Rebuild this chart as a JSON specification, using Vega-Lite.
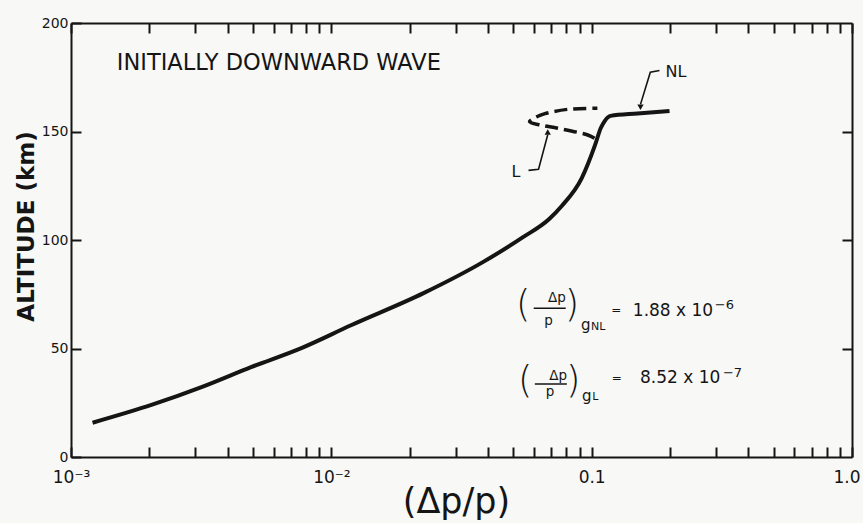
{
  "$schema": "https://vega.github.io/schema/vega-lite/v6.json",
  "width": 781,
  "height": 434,
  "autosize": {"type": "none"},
  "padding": {"left": 71, "top": 23, "right": 11, "bottom": 66},
  "background": "#f8f8f6",
  "config": {
    "view": {"stroke": null},
    "font": "DejaVu Sans",
    "axis": {
      "domainColor": "#151515",
      "tickColor": "#151515",
      "labelColor": "#151515",
      "titleColor": "#151515",
      "domainWidth": 2,
      "tickWidth": 2,
      "grid": false,
      "labelFont": "DejaVu Sans",
      "titleFont": "DejaVu Sans"
    }
  },
  "datasets": {
    "nl": [
      {"dp": 0.00121, "alt": 15.8},
      {"dp": 0.00205, "alt": 24.1},
      {"dp": 0.00319, "alt": 32.3},
      {"dp": 0.00494, "alt": 41.5},
      {"dp": 0.00767, "alt": 50.2},
      {"dp": 0.0119, "alt": 60.7},
      {"dp": 0.0226, "alt": 75.5},
      {"dp": 0.0382, "alt": 89.8},
      {"dp": 0.0543, "alt": 101.2},
      {"dp": 0.0687, "alt": 109.7},
      {"dp": 0.0769, "alt": 115.8},
      {"dp": 0.0915, "alt": 128.4},
      {"dp": 0.103, "alt": 143.7},
      {"dp": 0.1084, "alt": 151.6},
      {"dp": 0.1122, "alt": 154.8},
      {"dp": 0.1182, "alt": 157.2},
      {"dp": 0.1501, "alt": 158.3},
      {"dp": 0.1991, "alt": 159.5}
    ],
    "l": [
      {"ord": 1, "dp": 0.1026, "alt": 146.9},
      {"ord": 2, "dp": 0.0966, "alt": 148.4},
      {"ord": 3, "dp": 0.0741, "alt": 151.5},
      {"ord": 4, "dp": 0.064, "alt": 152.9},
      {"ord": 5, "dp": 0.0577, "alt": 154.5},
      {"ord": 6, "dp": 0.0602, "alt": 156.2},
      {"ord": 7, "dp": 0.0657, "alt": 158.1},
      {"ord": 8, "dp": 0.0807, "alt": 160.2},
      {"ord": 9, "dp": 0.1052, "alt": 160.7}
    ],
    "leaders": [
      {"leader": "NL", "ord": 1, "dp": 0.1822, "alt": 178.1},
      {"leader": "NL", "ord": 2, "dp": 0.168, "alt": 177.3},
      {"leader": "NL", "ord": 3, "dp": 0.154, "alt": 162.5},
      {"leader": "L", "ord": 1, "dp": 0.0572, "alt": 132.1},
      {"leader": "L", "ord": 2, "dp": 0.0625, "alt": 132.6},
      {"leader": "L", "ord": 3, "dp": 0.0678, "alt": 148.5}
    ],
    "arrows": [
      {"dir": "down", "dp": 0.154, "alt": 161.2},
      {"dir": "up", "dp": 0.0678, "alt": 149.8}
    ],
    "tags": [
      {"label": "NL", "dp": 0.192, "alt": 177.5},
      {"label": "L", "dp": 0.0492, "alt": 131.3}
    ],
    "heading": [
      {"label": "INITIALLY DOWNWARD WAVE", "dp": 0.0015, "alt": 181.7}
    ],
    "parens": [
      {"t": "(", "dp": 0.0546, "alt": 69.5},
      {"t": ")", "dp": 0.084, "alt": 69.5},
      {"t": "(", "dp": 0.0555, "alt": 34.4},
      {"t": ")", "dp": 0.085, "alt": 34.7}
    ],
    "fracs": [
      {"t": "Δp", "dp": 0.0736, "alt": 73.5},
      {"t": "p", "dp": 0.0683, "alt": 62.8},
      {"t": "Δp", "dp": 0.0743, "alt": 37.4},
      {"t": "p", "dp": 0.0692, "alt": 29.9}
    ],
    "bars": [
      {"dp": 0.0599, "dp2": 0.0795, "alt": 68.5},
      {"dp": 0.0605, "dp2": 0.0803, "alt": 33.6}
    ],
    "gs": [
      {"t": "g", "dp": 0.091, "alt": 61.0},
      {"t": "g", "dp": 0.0919, "alt": 28.3}
    ],
    "subs": [
      {"t": "NL", "dp": 0.0995, "alt": 59.7},
      {"t": "L", "dp": 0.1005, "alt": 27.5}
    ],
    "eqs": [
      {"t": "=", "dp": 0.1243, "alt": 67.6},
      {"t": "=", "dp": 0.125, "alt": 36.4}
    ],
    "vals": [
      {"t": "1.88 x 10", "dp": 0.1439, "alt": 67.5},
      {"t": "8.52 x 10", "dp": 0.1533, "alt": 36.2}
    ],
    "sups": [
      {"t": "−6", "dp": 0.297, "alt": 70.2},
      {"t": "−7", "dp": 0.3192, "alt": 38.6}
    ]
  },
  "layer": [
    {
      "data": {"name": "nl"},
      "mark": {"type": "line", "color": "#151515", "strokeWidth": 4, "interpolate": "monotone"},
      "encoding": {
        "x": {
          "field": "dp", "type": "quantitative",
          "scale": {"type": "log", "domain": [0.001, 1], "nice": false},
          "axis": {
            "orient": "bottom",
            "values": [0.001,0.002,0.003,0.004,0.005,0.006,0.007,0.008,0.009,0.01,0.02,0.03,0.04,0.05,0.06,0.07,0.08,0.09,0.1,0.2,0.3,0.4,0.5,0.6,0.7,0.8,0.9,1],
            "labelExpr": "datum.value == 0.001 ? '10⁻³' : datum.value == 0.01 ? '10⁻²' : datum.value == 0.1 ? '0.1' : datum.value == 1 ? '1.0' : ''",
            "labelOverlap": false,
            "labelFlush": false,
            "labelFontSize": 17,
            "labelPadding": 22,
            "labelAlign": {"condition": {"test": "datum.value == 1", "value": "right"}, "value": "center"},
            "labelOffset": {"condition": {"test": "datum.value == 1", "value": 8}, "value": 0},
            "tickSize": -10,
            "title": "(Δp/p)",
            "titleFontSize": 35,
            "titleFontWeight": "normal",
            "titleX": 385,
            "titleY": 44,
            "titleAlign": "center",
            "titleBaseline": "middle"
          }
        },
        "y": {
          "field": "alt", "type": "quantitative",
          "scale": {"domain": [0, 200], "nice": false},
          "axis": {
            "orient": "left",
            "values": [0, 50, 100, 150, 200],
            "labelFontSize": 14,
            "labelPadding": 13,
            "tickSize": -10,
            "title": "ALTITUDE (km)",
            "titleFontSize": 23,
            "titleFontWeight": "bold",
            "titleAngle": -90,
            "titleX": -45,
            "titleY": 203,
            "titleAlign": "center",
            "titleBaseline": "middle"
          }
        }
      }
    },
    {
      "data": {"name": "l"},
      "mark": {"type": "line", "color": "#151515", "strokeWidth": 3.5, "strokeDash": [13, 6], "interpolate": "catmull-rom"},
      "encoding": {
        "x": {
          "field": "dp", "type": "quantitative",
          "axis": {
            "orient": "top",
            "values": [0.001,0.002,0.003,0.004,0.005,0.006,0.007,0.008,0.009,0.01,0.02,0.03,0.04,0.05,0.06,0.07,0.08,0.09,0.1,0.2,0.3,0.4,0.5,0.6,0.7,0.8,0.9,1],
            "labels": false,
            "tickSize": -10,
            "title": null
          }
        },
        "y": {
          "field": "alt", "type": "quantitative",
          "axis": {
            "orient": "right",
            "values": [50, 100, 150],
            "labels": false,
            "tickSize": -10,
            "title": null
          }
        },
        "order": {"field": "ord", "type": "quantitative"}
      }
    },
    {
      "data": {"name": "leaders"},
      "mark": {"type": "line", "color": "#151515", "strokeWidth": 1.6},
      "encoding": {
        "x": {"field": "dp", "type": "quantitative", "axis": null},
        "y": {"field": "alt", "type": "quantitative", "axis": null},
        "detail": {"field": "leader"},
        "order": {"field": "ord", "type": "quantitative"}
      }
    },
    {
      "data": {"name": "arrows"},
      "mark": {"type": "point", "filled": true, "color": "#151515", "size": 40, "opacity": 1},
      "encoding": {
        "x": {"field": "dp", "type": "quantitative", "axis": null},
        "y": {"field": "alt", "type": "quantitative", "axis": null},
        "shape": {"field": "dir", "type": "nominal", "scale": {"domain": ["down", "up"], "range": ["triangle-down", "triangle-up"]}, "legend": null}
      }
    },
    {
      "data": {"name": "tags"},
      "mark": {"type": "text", "align": "left", "baseline": "middle", "fontSize": 16, "color": "#151515"},
      "encoding": {
        "x": {"field": "dp", "type": "quantitative", "axis": null},
        "y": {"field": "alt", "type": "quantitative", "axis": null},
        "text": {"field": "label"}
      }
    },
    {
      "data": {"name": "heading"},
      "mark": {"type": "text", "align": "left", "baseline": "middle", "fontSize": 22.5, "color": "#151515"},
      "encoding": {
        "x": {"field": "dp", "type": "quantitative", "axis": null},
        "y": {"field": "alt", "type": "quantitative", "axis": null},
        "text": {"field": "label"}
      }
    },
    {
      "data": {"name": "parens"},
      "mark": {"type": "text", "align": "center", "baseline": "middle", "fontSize": 37, "fontWeight": 200, "color": "#151515"},
      "encoding": {
        "x": {"field": "dp", "type": "quantitative", "axis": null},
        "y": {"field": "alt", "type": "quantitative", "axis": null},
        "text": {"field": "t"}
      }
    },
    {
      "data": {"name": "fracs"},
      "mark": {"type": "text", "align": "center", "baseline": "middle", "fontSize": 13.5, "color": "#151515"},
      "encoding": {
        "x": {"field": "dp", "type": "quantitative", "axis": null},
        "y": {"field": "alt", "type": "quantitative", "axis": null},
        "text": {"field": "t"}
      }
    },
    {
      "data": {"name": "bars"},
      "mark": {"type": "rule", "color": "#151515", "strokeWidth": 1.5},
      "encoding": {
        "x": {"field": "dp", "type": "quantitative", "axis": null},
        "x2": {"field": "dp2"},
        "y": {"field": "alt", "type": "quantitative", "axis": null}
      }
    },
    {
      "data": {"name": "gs"},
      "mark": {"type": "text", "align": "left", "baseline": "middle", "fontSize": 15, "color": "#151515"},
      "encoding": {
        "x": {"field": "dp", "type": "quantitative", "axis": null},
        "y": {"field": "alt", "type": "quantitative", "axis": null},
        "text": {"field": "t"}
      }
    },
    {
      "data": {"name": "subs"},
      "mark": {"type": "text", "align": "left", "baseline": "middle", "fontSize": 11, "color": "#151515"},
      "encoding": {
        "x": {"field": "dp", "type": "quantitative", "axis": null},
        "y": {"field": "alt", "type": "quantitative", "axis": null},
        "text": {"field": "t"}
      }
    },
    {
      "data": {"name": "eqs"},
      "mark": {"type": "text", "align": "center", "baseline": "middle", "fontSize": 12, "color": "#151515"},
      "encoding": {
        "x": {"field": "dp", "type": "quantitative", "axis": null},
        "y": {"field": "alt", "type": "quantitative", "axis": null},
        "text": {"field": "t"}
      }
    },
    {
      "data": {"name": "vals"},
      "mark": {"type": "text", "align": "left", "baseline": "middle", "fontSize": 17, "color": "#151515"},
      "encoding": {
        "x": {"field": "dp", "type": "quantitative", "axis": null},
        "y": {"field": "alt", "type": "quantitative", "axis": null},
        "text": {"field": "t"}
      }
    },
    {
      "data": {"name": "sups"},
      "mark": {"type": "text", "align": "left", "baseline": "middle", "fontSize": 13, "color": "#151515"},
      "encoding": {
        "x": {"field": "dp", "type": "quantitative", "axis": null},
        "y": {"field": "alt", "type": "quantitative", "axis": null},
        "text": {"field": "t"}
      }
    }
  ],
  "resolve": {"axis": {"x": "independent", "y": "independent"}}
}
